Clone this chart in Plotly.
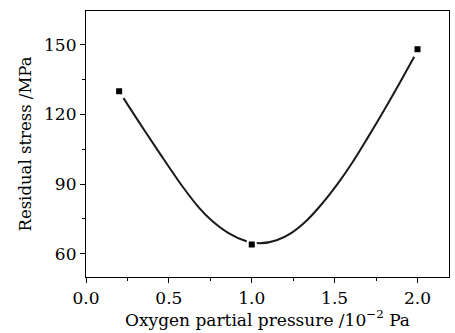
import plotly.graph_objects as go

# Measured points
pressure = [0.2, 1.0, 2.0]
stress = [130, 64, 148]

# Fitted curve
fit_x = [0.226, 0.35, 0.47, 0.59, 0.68, 0.76, 0.86, 0.96, 1.05, 1.15, 1.24, 1.33, 1.42, 1.52, 1.61, 1.70, 1.80, 1.90, 1.98]
fit_y = [127, 113.4, 100.6, 88.2, 80.0, 74.2, 68.9, 65.6, 64.5, 65.8, 69.0, 74.2, 81.2, 90.3, 99.6, 110.0, 122.0, 134.5, 144.8]

x_ticks = [0.0, 0.5, 1.0, 1.5, 2.0]
x_ticklabels = ["0.0", "0.5", "1.0", "1.5", "2.0"]
y_ticks = [60, 90, 120, 150]

FONT = "DejaVu Serif"

fig = go.Figure()
fig.add_trace(go.Scatter(x=fit_x, y=fit_y, mode="lines",
                         line=dict(color="#1a1a1a", width=2, shape="spline", smoothing=1),
                         showlegend=False, hoverinfo="skip"))
fig.add_trace(go.Scatter(x=pressure, y=stress, mode="markers",
                         marker=dict(symbol="square", size=8, color="black",
                                     line=dict(color="white", width=2)),
                         showlegend=False))

axis_common = dict(showgrid=False, zeroline=False, showline=True, linecolor="black",
                   linewidth=1.2, mirror=True, ticks="outside", ticklen=5, tickwidth=1,
                   tickcolor="black", tickfont=dict(family=FONT, size=17, color="black"))

fig.update_xaxes(range=[0, 2.19], tickvals=x_ticks, ticktext=x_ticklabels,
                 minor=dict(dtick=0.25, ticks="outside", ticklen=3, tickcolor="black"),
                 title=dict(text="Oxygen partial pressure /10<sup>−2</sup> Pa",
                            font=dict(family=FONT, size=17, color="black"), standoff=2),
                 **axis_common)
fig.update_yaxes(range=[50, 164.5], tickvals=y_ticks,
                 minor=dict(dtick=15, ticks="outside", ticklen=3, tickcolor="black"),
                 title=dict(text="Residual stress /MPa",
                            font=dict(family=FONT, size=16.5, color="black"), standoff=8),
                 **axis_common)

fig.update_layout(width=455, height=333, margin=dict(l=86, r=6, t=11, b=56),
                  plot_bgcolor="white", paper_bgcolor="white")

fig.write_html("out.html")
